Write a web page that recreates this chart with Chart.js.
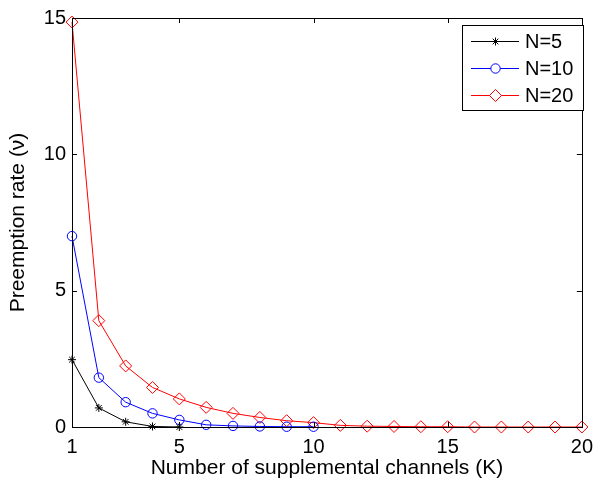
<!DOCTYPE html>
<html lang="en">
<head>
  <meta charset="UTF-8">
  <title>Preemption rate</title>
  <script src="https://cdn.jsdelivr.net/npm/chart.js"></script>
  <style>
    html, body { margin: 0; padding: 0; background: #fff; overflow: hidden; }
  </style>
</head>
<body>
  <canvas id="rateChart" width="601" height="481"></canvas>

  <script>
    // number of supplemental channels K
    const channels = [1, 2, 3, 4, 5, 6, 7, 8, 9, 10, 11, 12, 13, 14, 15, 16, 17, 18, 19, 20];
    // preemption rate for each N
    const rateN5 = [2.47, 0.70, 0.19, 0.02, 0.0];
    const rateN10 = [7.0, 1.81, 0.91, 0.5, 0.26, 0.08, 0.04, 0.02, 0.01, 0.01];
    const rateN20 = [14.85, 3.9, 2.24, 1.45, 1.03, 0.72, 0.5, 0.35, 0.23, 0.16, 0.06, 0.03, 0.02, 0.01, 0.01, 0, 0, 0, 0, 0];
    const seriesLabels = ['N=5', 'N=10', 'N=20'];
    const xTicks = [1, 5, 10, 15, 20];
    const yTicks = [0, 5, 10, 15];

    const FONT = "'Liberation Sans', Arial, sans-serif";

    const toPoints = values => values.map((v, i) => ({ x: channels[i], y: v }));

    // MATLAB style box with inward ticks, plus the legend box
    const matlabAxes = {
      id: 'matlabAxes',
      afterDatasetsDraw(chart) {
        const { ctx, chartArea: a, scales } = chart;
        const len = 5;
        ctx.save();
        ctx.strokeStyle = '#000';
        ctx.lineWidth = 1;
        ctx.beginPath();
        xTicks.forEach(t => {
          const px = Math.round(scales.x.getPixelForValue(t)) + 0.5;
          ctx.moveTo(px, a.bottom); ctx.lineTo(px, a.bottom - len);
          ctx.moveTo(px, a.top); ctx.lineTo(px, a.top + len);
        });
        yTicks.forEach(t => {
          const py = Math.round(scales.y.getPixelForValue(t)) + 0.5;
          ctx.moveTo(a.left, py); ctx.lineTo(a.left + len, py);
          ctx.moveTo(a.right, py); ctx.lineTo(a.right - len, py);
        });
        ctx.stroke();
        ctx.strokeRect(Math.round(a.left) + 0.5, Math.round(a.top) + 0.5,
          Math.round(a.right - a.left), Math.round(a.bottom - a.top));

        // legend
        const box = { x: 462, y: 25, w: 121, h: 85 };
        ctx.fillStyle = '#fff';
        ctx.fillRect(box.x, box.y, box.w, box.h);
        ctx.strokeRect(box.x + 0.5, box.y + 0.5, box.w, box.h);
        const rows = [41.5, 68.5, 95.5];
        chart.data.datasets.forEach((ds, i) => {
          const y = rows[i];
          ctx.strokeStyle = ds.borderColor;
          ctx.lineWidth = 1;
          ctx.beginPath();
          ctx.moveTo(471, y); ctx.lineTo(519, y);
          ctx.stroke();
          ctx.fillStyle = '#fff';
          Chart.helpers.drawPoint(ctx, {
            pointStyle: ds.pointStyle, radius: ds.pointRadius, borderWidth: 1, rotation: 0
          }, 495.5, y);
          ctx.fillStyle = '#000';
          ctx.font = '20px ' + FONT;
          ctx.textBaseline = 'middle';
          ctx.textAlign = 'left';
          ctx.fillText(ds.label, 525, y + 1);
        });
        ctx.restore();
      }
    };

    new Chart(document.getElementById('rateChart'), {
      type: 'line',
      data: {
        datasets: [
          {
            label: seriesLabels[0],
            data: toPoints(rateN5),
            borderColor: '#000000',
            backgroundColor: '#000000',
            pointStyle: 'star',
            pointRadius: 4,
          },
          {
            label: seriesLabels[1],
            data: toPoints(rateN10),
            borderColor: '#0000ff',
            backgroundColor: 'rgba(0,0,0,0)',
            pointStyle: 'circle',
            pointRadius: 4.7,
          },
          {
            label: seriesLabels[2],
            data: toPoints(rateN20),
            borderColor: '#ff0000',
            backgroundColor: 'rgba(0,0,0,0)',
            pointStyle: 'rectRot',
            pointRadius: 6,
          }
        ]
      },
      options: {
        responsive: false,
        maintainAspectRatio: false,
        animation: false,
        devicePixelRatio: 1,
        layout: { padding: { top: 17, right: 11, left: 0, bottom: 0 } },
        elements: {
          line: { borderWidth: 1, tension: 0 },
          point: { borderWidth: 1, hoverRadius: 5 }
        },
        datasets: { line: { clip: false } },
        plugins: { legend: { display: false }, tooltip: { enabled: false } },
        scales: {
          x: {
            type: 'linear',
            min: 1,
            max: 20,
            afterBuildTicks: s => { s.ticks = xTicks.map(v => ({ value: v })); },
            afterFit: s => { s.height = 54; },
            grid: { display: false, drawTicks: false },
            border: { display: false },
            ticks: { color: '#000', padding: 8, maxRotation: 0, font: { family: FONT, size: 20 } },
            title: {
              display: true,
              text: 'Number of supplemental channels (K)',
              color: '#000',
              padding: { top: 0, bottom: 0 },
              font: { family: FONT, size: 21 }
            }
          },
          y: {
            type: 'linear',
            min: 0,
            max: 15,
            afterBuildTicks: s => { s.ticks = yTicks.map(v => ({ value: v })); },
            afterFit: s => { s.width = 72; },
            grid: { display: false, drawTicks: false },
            border: { display: false },
            ticks: { color: '#000', padding: 6, font: { family: FONT, size: 20 } },
            title: {
              display: true,
              text: 'Preemption rate (ν)',
              color: '#000',
              padding: { top: 6, bottom: 0 },
              font: { family: FONT, size: 21 }
            }
          }
        }
      },
      plugins: [matlabAxes]
    });
  </script>
</body>
</html>
